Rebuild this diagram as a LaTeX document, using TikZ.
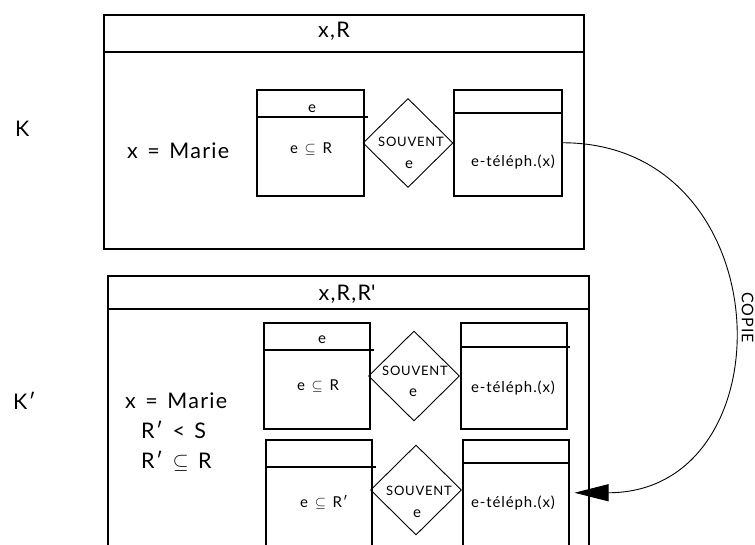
\documentclass[tikz,border=0pt]{standalone}
\usepackage{fontspec}
\setmainfont{Lato}[LetterSpace=6,WordSpace=1.4]
\usetikzlibrary{shapes.geometric,arrows.meta}
\begin{document}
\begin{tikzpicture}[x=1pt,y=-1pt,
  frame/.style={draw, line width=1.7pt, rectangle, inner sep=0pt, anchor=north west},
  cell/.style={draw, line width=1.5pt, rectangle, inner sep=0pt, anchor=north west,
    minimum width=106pt, minimum height=106pt},
  rel/.style={draw, line width=0.9pt, diamond, inner sep=0pt, minimum width=90pt, minimum height=89pt},
  bar/.style={line width=1.7pt},
  cellbar/.style={line width=1.5pt},
  big/.style={inner sep=0pt, anchor=base, font=\fontsize{21.5}{25}\selectfont},
  small/.style={inner sep=0pt, anchor=base, font=\fontsize{15}{18}\selectfont},
  tiny/.style={inner sep=0pt, anchor=base, font=\fontsize{13}{15}\selectfont},
  copyarrow/.style={line width=0.9pt, -{Triangle[length=34pt,width=17pt]}, shorten >=5pt}
]
\clip (0,0) rectangle (755,544);

% ---- K ----
\node[big, anchor=base west] (lK) at (15,136) {K};
\node[frame, minimum width=480pt, minimum height=234pt] (K) at (103,14) {};
\draw[bar] ([yshift=-38pt]K.north west) -- ([yshift=-38pt]K.north east);
\node[big] (tK) at (334,37) {x,R};
\node[big, anchor=base west] (mK) at (127,158) {x = Marie};

\node[cell, minimum width=107pt] (e1) at (256,89) {};
\draw[cellbar] ([yshift=-28pt]e1.north west) -- ([yshift=-28pt,xshift=3pt]e1.north east);
\node[small] (e1h) at (312,112) {e};
\node[small] (e1b) at (311,153) {e $\subseteq$ R};

\node[rel] (d1) at (408,143) {};
\node[tiny] (d1a) at (411,146) {SOUVENT};
\node[small] (d1b) at (409,168) {e};

\node[cell, minimum width=108pt] (t1) at (453,89) {};
\draw[cellbar] ([yshift=-24pt]t1.north west) -- ([yshift=-24pt]t1.north east);
\node[small] (t1b) at (513,166) {e-téléph.(x)};

% ---- K' ----
\node[big, anchor=base west] (lK2) at (13,409) {K′};
\node[frame, minimum width=481pt, minimum height=300pt] (K2) at (107,275) {};
\draw[bar] ([yshift=-34pt]K2.north west) -- ([yshift=-34pt]K2.north east);
\node[big] (tK2) at (347,300) {x,R,R\textquotesingle};
\node[big, anchor=base west] (m2a) at (125,408) {x = Marie};
\node[big, anchor=base west] (m2b) at (141,438) {R′ < S};
\node[big, anchor=base west] (m2c) at (141,468) {R′ $\subseteq$ R};

\node[cell] (e2) at (263,322) {};
\draw[cellbar] ([yshift=-28pt]e2.north west) -- ([yshift=-28pt,xshift=3pt]e2.north east);
\node[small] (e2h) at (322,343) {e};
\node[small] (e2b) at (318,390) {e $\subseteq$ R};

\node[rel, minimum width=91pt, minimum height=90pt] (d2) at (414,376) {};
\node[tiny] (d2a) at (415,375) {SOUVENT};
\node[small] (d2b) at (413,396) {e};

\node[cell] (t2) at (460,322) {};
\draw[cellbar] ([yshift=-25pt]t2.north west) -- ([yshift=-25pt,xshift=2pt]t2.north east);
\node[small] (t2b) at (513,392) {e-téléph.(x)};

\node[cell] (e3) at (265,439) {};
\draw[cellbar] ([yshift=-28pt]e3.north west) -- ([yshift=-28pt,xshift=3pt]e3.north east);
\node[small] (e3b) at (324,507) {e $\subseteq$ R′};

\node[rel, minimum width=91pt, minimum height=90pt] (d3) at (416,490) {};
\node[tiny] (d3a) at (419,495) {SOUVENT};
\node[small] (d3b) at (417,517) {e};

\node[cell] (t3) at (462,439) {};
\draw[cellbar] ([yshift=-24pt]t3.north west) -- ([yshift=-24pt]t3.north east);
\node[small] (t3b) at (513,507) {e-téléph.(x)};

% ---- copy connector ----
\draw[copyarrow] (t1.east) .. controls +(221,0) and +(221,0) .. (t3.east)
  node[pos=0.5, anchor=south, rotate=-90, inner sep=0pt, outer sep=10pt,
       font=\fontsize{16}{19}\selectfont] (cp) {COPIE};
\end{tikzpicture}
\end{document}
